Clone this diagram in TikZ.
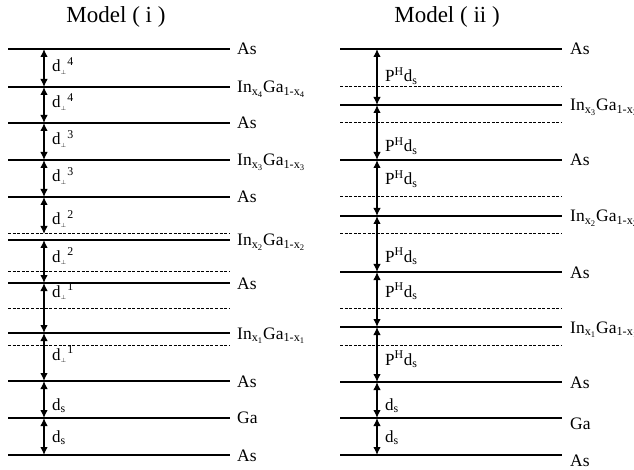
\documentclass[tikz,border=0pt]{standalone}
\usepackage{fontspec}
\setmainfont{Liberation Serif}
\usetikzlibrary{arrows.meta}
\newcommand{\InGa}[1]{In\textsubscript{x\textsubscript{#1}}Ga\textsubscript{1-x\textsubscript{#1}}}
\newcommand{\dperp}[1]{d\textsubscript{$\scriptscriptstyle\perp$}\kern0.5pt\textsuperscript{#1}}
\newcommand{\PHds}{P\textsuperscript{H}d\textsubscript{s}}
\newcommand{\dsub}{d\textsubscript{s}}
\tikzset{
  level/.style={line width=1.2pt},
  dlevel/.style={line width=1pt, dash pattern=on 3pt off 1.6pt},
  dim/.style={line width=1.2pt, {Latex[length=8pt,width=7.5pt]}-{Latex[length=8pt,width=7.5pt]}},
  lbl/.style={anchor=base west, inner sep=0pt, font=\fontsize{17.5}{20}\selectfont},
  dlbl/.style={anchor=base west, inner sep=0pt, font=\fontsize{17}{19}\selectfont},
  ttl/.style={anchor=base, inner sep=0pt, font=\fontsize{23}{26}\selectfont},
}
\begin{document}
\begin{tikzpicture}[x=1pt,y=-1pt]
\useasboundingbox (0,0) rectangle (634,470);
% titles
\node[ttl] (t1) at (116,23) {Model ( i )};
\node[ttl] (t2) at (447,23) {Model ( ii )};
% ---------- Model (i) ----------
\foreach \y in {49,87,123,160,197,240,283,333,381,418,455}
  \draw[level] (8,\y) -- (230,\y);
\foreach \y in {234,271,308,345}
  \draw[dlevel] (8,\y) -- (230,\y);
\foreach \n/\y in {a/49,b/87,c/123,d/160,e/197,f/234,g/240,h/283,i/333,j/381,k/418,l/455}
  \coordinate (L\n) at (44,\y);
\foreach \s/\t in {a/b,b/c,c/d,d/e,e/f,g/h,h/i,i/j,j/k,k/l}
  \draw[dim] (L\s) -- (L\t);
\node[dlbl] (ld1) at (52,72) {\dperp{4}};
\node[dlbl] (ld2) at (52,108) {\dperp{4}};
\node[dlbl] (ld3) at (52,145) {\dperp{3}};
\node[dlbl] (ld4) at (52,182) {\dperp{3}};
\node[dlbl] (ld5) at (52,225) {\dperp{2}};
\node[dlbl] (ld6) at (52,262) {\dperp{2}};
\node[dlbl] (ld7) at (52,297) {\dperp{1}};
\node[dlbl] (ld8) at (52,360) {\dperp{1}};
\node[dlbl] (ld9) at (52,410) {\dsub};
\node[dlbl] (ld10) at (52,442) {\dsub};
\node[lbl] (ll1) at (237,55) {As};
\node[lbl] (ll2) at (237,93) {\InGa{4}};
\node[lbl] (ll3) at (237,129) {As};
\node[lbl] (ll4) at (237,166) {\InGa{3}};
\node[lbl] (ll5) at (237,203) {As};
\node[lbl] (ll6) at (237,246) {\InGa{2}};
\node[lbl] (ll7) at (237,289) {As};
\node[lbl] (ll8) at (237,339) {\InGa{1}};
\node[lbl] (ll9) at (237,387) {As};
\node[lbl] (ll10) at (237,423) {Ga};
\node[lbl] (ll11) at (237,461) {As};
% ---------- Model (ii) ----------
\foreach \y in {49,105,160,216,272,327,382,418,455}
  \draw[level] (340,\y) -- (562,\y);
\foreach \y in {87,123,197,234,308,345}
  \draw[dlevel] (340,\y) -- (562,\y);
\foreach \n/\y in {a/49,b/105,c/160,d/216,e/272,f/327,g/382,h/418,i/455}
  \coordinate (R\n) at (377,\y);
\foreach \s/\t in {a/b,b/c,c/d,d/e,e/f,f/g,g/h,h/i}
  \draw[dim] (R\s) -- (R\t);
\node[dlbl] (rd1) at (385,82) {\PHds};
\node[dlbl] (rd2) at (385,152) {\PHds};
\node[dlbl] (rd3) at (385,185) {\PHds};
\node[dlbl] (rd4) at (385,262) {\PHds};
\node[dlbl] (rd5) at (385,297) {\PHds};
\node[dlbl] (rd6) at (385,365) {\PHds};
\node[dlbl] (rd7) at (385,410) {\dsub};
\node[dlbl] (rd8) at (385,442) {\dsub};
\node[lbl] (rl1) at (570,55) {As};
\node[lbl] (rl2) at (570,111) {\InGa{3}};
\node[lbl] (rl3) at (570,166) {As};
\node[lbl] (rl4) at (570,222) {\InGa{2}};
\node[lbl] (rl5) at (570,278) {As};
\node[lbl] (rl6) at (570,333) {\InGa{1}};
\node[lbl] (rl7) at (570,388) {As};
\node[lbl] (rl8) at (570,429) {Ga};
\node[lbl] (rl9) at (570,466) {As};
\end{tikzpicture}
\end{document}
